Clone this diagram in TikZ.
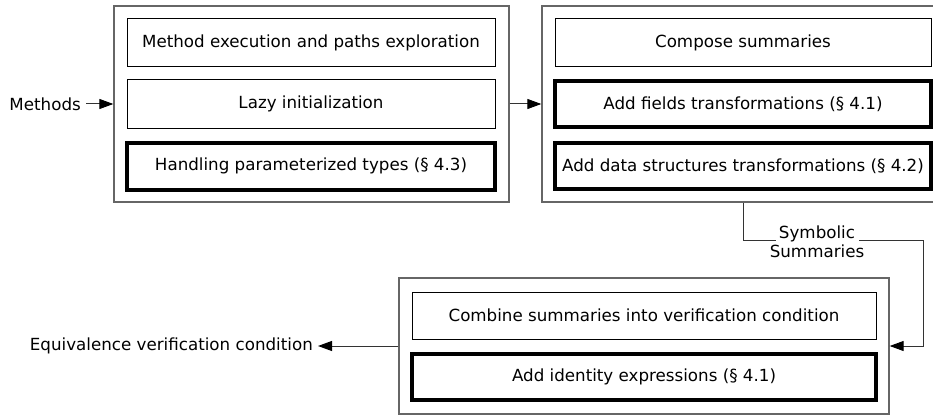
\documentclass[tikz,border=0pt]{standalone}
\usepackage{fontspec}
\setmainfont{DejaVu Sans}
\usetikzlibrary{arrows.meta}
\tikzset{
  group/.style={draw=black!60,line width=1.3pt,inner sep=0pt,rectangle},
  stepbox/.style={draw=black,line width=1pt,inner sep=0pt,rectangle,fill=white},
  keybox/.style={draw=black,line width=4pt,inner sep=0pt,rectangle,fill=white},
  conn/.style={draw=black!80,line width=1pt},
  tip/.style={-{Triangle[length=14pt,width=10pt,color=black]}},
  lbl/.style={inner sep=0pt}
}
\begin{document}
\begin{tikzpicture}[x=1pt,y=-1pt,font=\fontsize{16.7}{19}\selectfont]
\useasboundingbox (0,0) rectangle (933,417);
\clip (0,0) rectangle (933,417);
\fill[white] (0,0) rectangle (933,417);
% group 1
\node[group,minimum width=395pt,minimum height=196pt] (g1) at (311.5,104) {};
\node[stepbox,minimum width=368pt,minimum height=48pt] (a1) at (311,43) {Method execution and paths exploration};
\node[stepbox,minimum width=368pt,minimum height=48pt] (a2) at (311,104) {Lazy initialization};
\node[keybox,minimum width=368pt,minimum height=47pt] (a3) at (311,166) {Handling parameterized types (§ 4.3)};
% group 2
\node[group,minimum width=402pt,minimum height=196pt] (g2) at (743,104) {};
\node[stepbox,minimum width=376pt,minimum height=48pt] (c1) at (743,43) {Compose summaries};
\node[keybox,minimum width=376pt,minimum height=45pt] (c2) at (743,104) {Add fields transformations (§ 4.1)};
\node[keybox,minimum width=376pt,minimum height=46pt] (c3) at (743,166) {Add data structures transformations (§ 4.2)};
% group 3
\node[group,minimum width=490pt,minimum height=136pt] (g3) at (644,346) {};
\node[stepbox,minimum width=464pt,minimum height=47pt] (e1) at (644,315.5) {Combine summaries into verification condition};
\node[keybox,minimum width=464pt,minimum height=46pt] (e2) at (644,377) {Add identity expressions (§ 4.1)};
% labels
\node[lbl,anchor=east] (meth) at (81,104) {Methods};
\node[lbl,anchor=east] (equiv) at (313,346) {Equivalence verification condition};
\node[lbl,align=center] (sym) at (817,242) {Symbolic\\Summaries};
% connectors
\coordinate (sl) at (776,240);
\coordinate (sr) at (859,240);
\coordinate (rc) at (923,346);
\draw[conn,tip] (meth.east) ++(5,0) -- (g1.west);
\draw[conn,tip] (g1.east) -- (g2.west);
\draw[conn] (g2.south) |- (sl);
\draw[conn,tip] (sr) -| (rc) -- (g3.east);
\draw[conn,tip] (g3.west) -- ([xshift=5pt]equiv.east);
\end{tikzpicture}
\end{document}
